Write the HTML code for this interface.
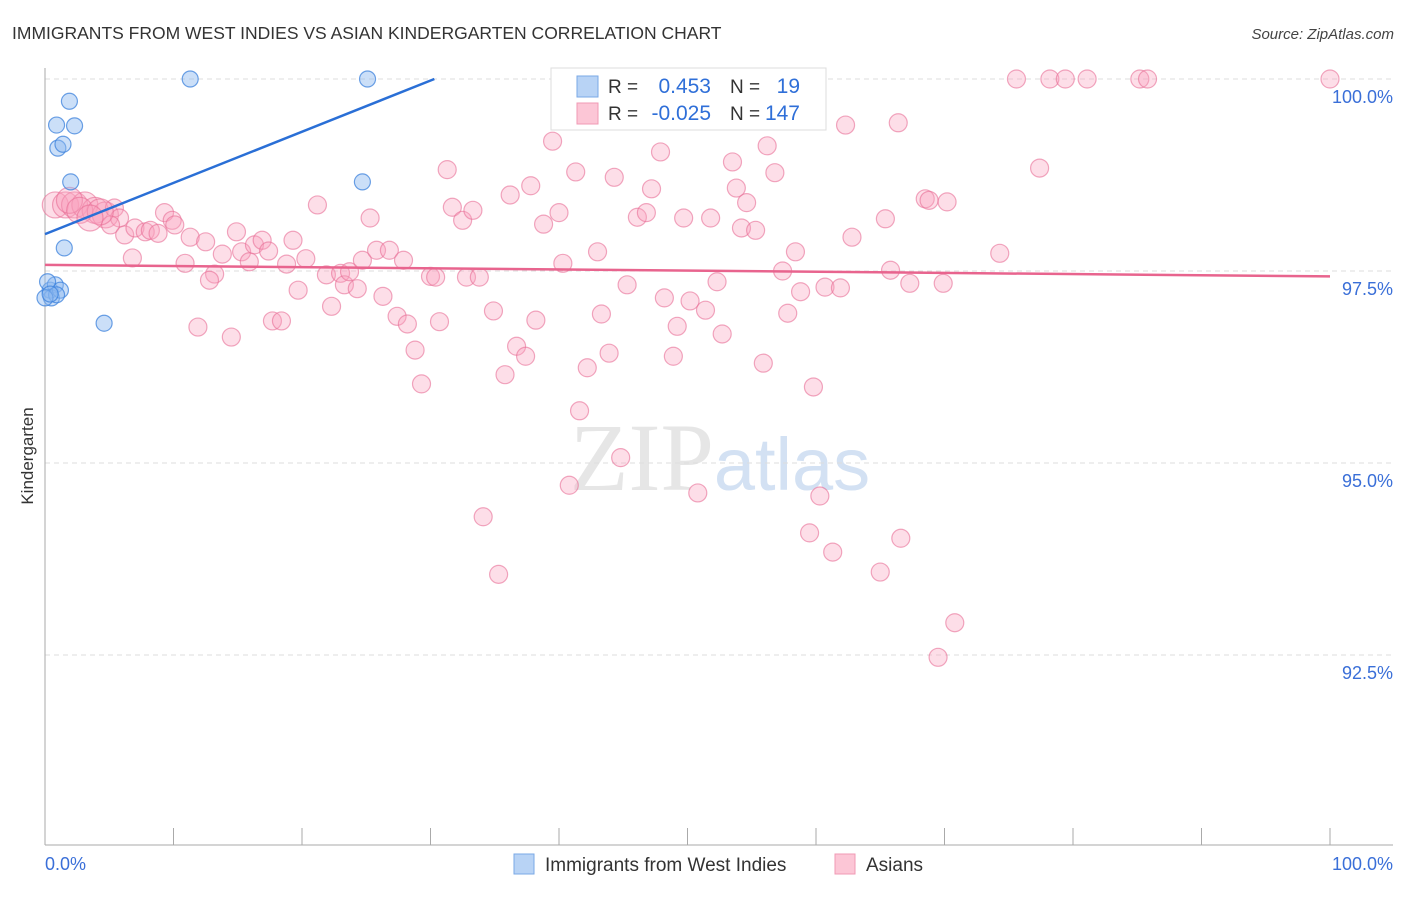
<!DOCTYPE html>
<html><head><meta charset="utf-8"><style>
body{margin:0;background:#fff;font-family:"Liberation Sans",sans-serif;}
</style></head><body>
<svg id="chart" width="1406" height="892" xmlns="http://www.w3.org/2000/svg" font-family="Liberation Sans, sans-serif">
<text x="12" y="39" font-size="17.5" fill="#333">IMMIGRANTS FROM WEST INDIES VS ASIAN KINDERGARTEN CORRELATION CHART</text>
<text x="1394" y="39" font-size="15" fill="#444" text-anchor="end" font-style="italic">Source: ZipAtlas.com</text>
<text x="720" y="490" font-size="96" text-anchor="middle" fill="#e6e6e6" font-family="Liberation Serif, serif">ZIP<tspan fill="#d3e1f3" font-family="Liberation Sans, sans-serif" font-size="74">atlas</tspan></text>
<text transform="translate(33,456) rotate(-90)" font-size="17" fill="#333" text-anchor="middle">Kindergarten</text>
<g id="grid"></g><g id="axes"></g><g id="pts"></g><g id="trend"></g>
<g>
<rect x="551" y="68" width="275" height="62" fill="#fff" stroke="#ddd"/>
<rect x="577" y="76" width="21" height="21" fill="#b8d3f5" stroke="#7aa8e6"/>
<rect x="577" y="103" width="21" height="21" fill="#fcc6d6" stroke="#f09ab4"/>
<text x="608" y="93" font-size="19" fill="#333">R =</text><text x="711" y="93" font-size="21" fill="#2f6fd8" text-anchor="end">0.453</text>
<text x="730" y="93" font-size="19" fill="#333">N =</text><text x="800" y="93" font-size="21" fill="#2f6fd8" text-anchor="end">19</text>
<text x="608" y="120" font-size="19" fill="#333">R =</text><text x="711" y="120" font-size="21" fill="#2f6fd8" text-anchor="end">-0.025</text>
<text x="730" y="120" font-size="19" fill="#333">N =</text><text x="800" y="120" font-size="21" fill="#2f6fd8" text-anchor="end">147</text>
</g>
<g>
<rect x="514" y="854" width="20" height="20" fill="#b8d3f5" stroke="#7aa8e6"/>
<text x="545" y="871" font-size="19" fill="#333">Immigrants from West Indies</text>
<rect x="835" y="854" width="20" height="20" fill="#fcc6d6" stroke="#f09ab4"/>
<text x="866" y="871" font-size="19" fill="#333">Asians</text>
</g>
</svg>
<script>
const yTicks=[100,97.5,95,92.5];
const yTickLabels=["100.0%","97.5%","95.0%","92.5%"];
const xTickLabels=["0.0%","100.0%"];
const blueX=[0.4,0.8,0.5,1.2,0.2,0.9,11.3,25.1,1.9,0.9,2.3,1.0,1.4,2.0,1.5,4.6,24.7,0,0.4];
const blueY=[97.25,97.32,97.15,97.25,97.36,97.19,100,100,99.71,99.40,99.39,99.10,99.15,98.66,97.80,96.82,98.66,97.15,97.20];
const pinkX=[0.8,1.6,2.3,3.1,3.9,4.7,5.4,5.8,5.1,6.2,7.0,7.8,8.2,8.8,9.3,9.9,10.1,11.3,12.5,10.9,6.8,11.9,14.5,13.2,12.8,13.8,14.9,15.3,15.9,16.3,16.9,17.4,17.7,18.4,18.8,19.3,19.7,20.3,21.2,21.9,22.3,23.0,23.3,23.7,24.3,24.7,25.3,25.8,26.3,26.8,27.4,27.9,28.2,28.8,29.3,30.0,30.4,30.7,31.3,31.7,32.5,32.8,33.3,33.8,34.1,34.9,35.3,35.8,36.2,36.7,37.4,37.8,38.2,38.8,39.5,40.0,40.3,40.8,41.3,41.6,42.2,43.0,43.3,43.9,44.3,44.8,45.3,46.1,46.8,47.2,47.9,48.2,48.9,49.2,49.7,50.2,50.8,51.4,51.8,52.3,52.7,53.5,53.8,54.2,54.6,55.3,55.9,56.2,56.8,57.4,57.8,58.4,58.8,59.5,59.8,60.3,60.7,61.3,61.9,62.3,62.8,65.0,65.4,65.8,66.4,66.6,67.3,68.5,68.8,69.9,70.2,70.8,69.5,74.3,75.6,77.4,78.2,79.4,81.1,85.2,85.8,100,1.9,2.7,4.3,3.5];
const pinkY=[98.36,98.36,98.36,98.36,98.29,98.23,98.32,98.19,98.10,97.97,98.06,98.01,98.03,97.99,98.26,98.16,98.10,97.94,97.88,97.60,97.67,96.77,96.64,97.46,97.38,97.72,98.01,97.75,97.62,97.84,97.90,97.76,96.85,96.85,97.59,97.90,97.25,97.66,98.36,97.45,97.04,97.47,97.32,97.49,97.27,97.64,98.19,97.77,97.17,97.77,96.91,97.64,96.81,96.47,96.03,97.43,97.42,96.84,98.82,98.33,98.16,97.42,98.29,97.42,94.30,96.98,93.55,96.15,98.49,96.52,96.39,98.61,96.86,98.11,99.19,98.26,97.60,94.71,98.79,95.68,96.24,97.75,96.94,96.43,98.72,95.07,97.32,98.20,98.26,98.57,99.05,97.15,96.39,96.78,98.19,97.11,94.61,96.99,98.19,97.36,96.68,98.92,98.58,98.06,98.39,98.03,96.30,99.13,98.78,97.50,96.95,97.75,97.23,94.09,95.99,94.57,97.29,93.84,97.28,99.40,97.94,93.58,98.18,97.51,99.43,94.02,97.34,98.44,98.42,97.34,98.40,92.92,92.47,97.73,100,98.84,100,100,100,100,100,100,98.42,98.29,98.27,98.19];
const blueTrend=[0,97.98,30.3,100];
const pinkTrend=[0,97.58,100,97.43];
const X=v=>45+v*12.85, Y=v=>79+(100-v)*76.8;
const NS="http://www.w3.org/2000/svg";
function mk(tag,attrs,parent){const e=document.createElementNS(NS,tag);for(const k in attrs)e.setAttribute(k,attrs[k]);document.getElementById(parent).appendChild(e);return e;}
yTicks.forEach((t,i)=>{
 const l=mk('line',{x1:45,x2:1393,y1:Y(t),y2:Y(t),stroke:'#ddd','stroke-dasharray':'5,4'},'grid');
 
 
 const tx=mk('text',{x:1393,y:Y(t)+24,'font-size':18,fill:'#3a6fd8','text-anchor':'end'},'grid');
 tx.textContent=yTickLabels[i];
 
 
});
const ax=mk('line',{x1:45,x2:45,y1:68,y2:845,stroke:'#aaa'},'axes');


const bx=mk('line',{x1:45,x2:1393,y1:845,y2:845,stroke:'#aaa'},'axes');


for(let i=0;i<=10;i++){const t=mk('line',{x1:X(i*10),x2:X(i*10),y1:828,y2:845,stroke:'#aaa'},'axes');
 
 }
[[0,45,'start'],[1,1393,'end']].forEach(([i,x,a])=>{const t=mk('text',{x:x,y:870,'font-size':18,fill:'#3a6fd8','text-anchor':a},'axes');t.textContent=xTickLabels[i];
 
 });
pinkX.forEach((v,i)=>{const c=mk('circle',{cx:X(v),cy:Y(pinkY[i]),r:v<5?13:9,fill:'rgba(248,160,188,0.35)',stroke:'rgba(232,110,150,0.6)','stroke-width':1.2},'pts');
 
 });
blueX.forEach((v,i)=>{const c=mk('circle',{cx:X(v),cy:Y(blueY[i]),r:8,fill:'rgba(140,185,240,0.45)',stroke:'rgba(60,130,220,0.75)','stroke-width':1.2},'pts');
 
 });
const bl=mk('line',{x1:X(blueTrend[0]),y1:Y(blueTrend[1]),x2:X(blueTrend[2]),y2:Y(blueTrend[3]),stroke:'#2a6fd6','stroke-width':2.5},'trend');


const pl=mk('line',{x1:X(pinkTrend[0]),y1:Y(pinkTrend[1]),x2:X(pinkTrend[2]),y2:Y(pinkTrend[3]),stroke:'#e8648e','stroke-width':2.5},'trend');


</script>
</body></html>
